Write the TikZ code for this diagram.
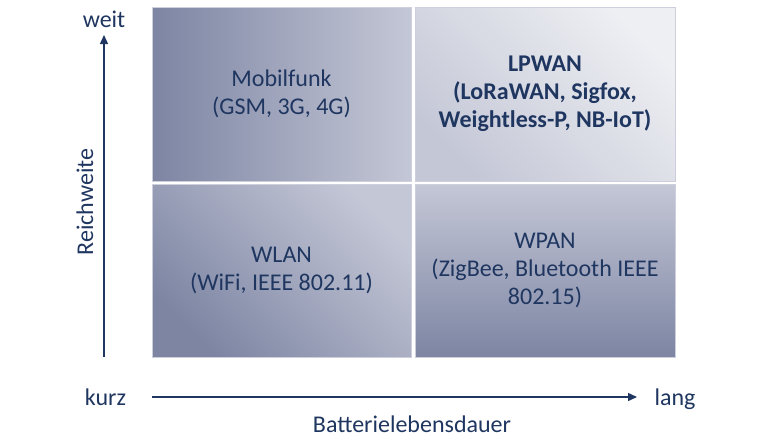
\documentclass[tikz,border=0pt]{standalone}
\usepackage{fontspec}
\setmainfont{Carlito}
\usetikzlibrary{arrows.meta}
\definecolor{navy}{HTML}{1F3660}
\definecolor{dk}{HTML}{7D85A3}
\definecolor{lt}{HTML}{C4C7D6}
\definecolor{xl}{HTML}{EEEFF3}
\definecolor{edge}{HTML}{CDD0DC}
\tikzset{
  quad/.style={draw=edge, line width=0.8pt, inner sep=0pt, outer sep=0pt, align=center,
    text=navy, font=\fontsize{24}{28}\selectfont},
  axislabel/.style={text=navy, font=\fontsize{24}{28}\selectfont, inner sep=0pt},
  axisline/.style={draw=navy, line width=1.4pt, -{Triangle[length=9pt,width=8pt]}}
}
\begin{document}
\begin{tikzpicture}[x=1pt,y=-1pt]
\useasboundingbox (0,0) rectangle (760,440);
% quadrants
\node[quad, minimum width=259, minimum height=174, left color=dk, right color=lt]
  (mob) at (281.5,94) {Mobilfunk\\(GSM, 3G, 4G)};
\node[quad, minimum width=260, minimum height=174, bottom color=lt, top color=xl, shading angle=-45]
  (lpw) at (545,94) {\bfseries LPWAN\\\bfseries (LoRaWAN, Sigfox,\\\bfseries Weightless-P, NB-IoT)};
\node[quad, minimum width=259, minimum height=173, bottom color=dk, top color=lt, shading angle=-45]
  (wlan) at (281.5,270.5) {WLAN\\(WiFi, IEEE 802.11)};
\node[quad, minimum width=260, minimum height=173, bottom color=dk, top color=lt]
  (wpan) at (545,270.5) {WPAN\\(ZigBee, Bluetooth IEEE\\802.15)};
% axes
\coordinate (yb) at (104,357);
\coordinate (yt) at (104,35);
\coordinate (xs) at (152,397);
\coordinate (xe) at (637,397);
\draw[axisline] (yb) -- (yt);
\draw[axisline] (xs) -- (xe);
% axis labels
\node[axislabel, anchor=base] (weit) at (104,27) {weit};
\node[axislabel, anchor=base] (kurz) at (105.5,405) {kurz};
\node[axislabel, anchor=base] (lang) at (675,405) {lang};
\node[axislabel, anchor=base] (batt) at (412,432) {Batterielebensdauer};
\node[axislabel, anchor=base, rotate=90] (reich) at (93,202) {Reichweite};
\end{tikzpicture}
\end{document}
